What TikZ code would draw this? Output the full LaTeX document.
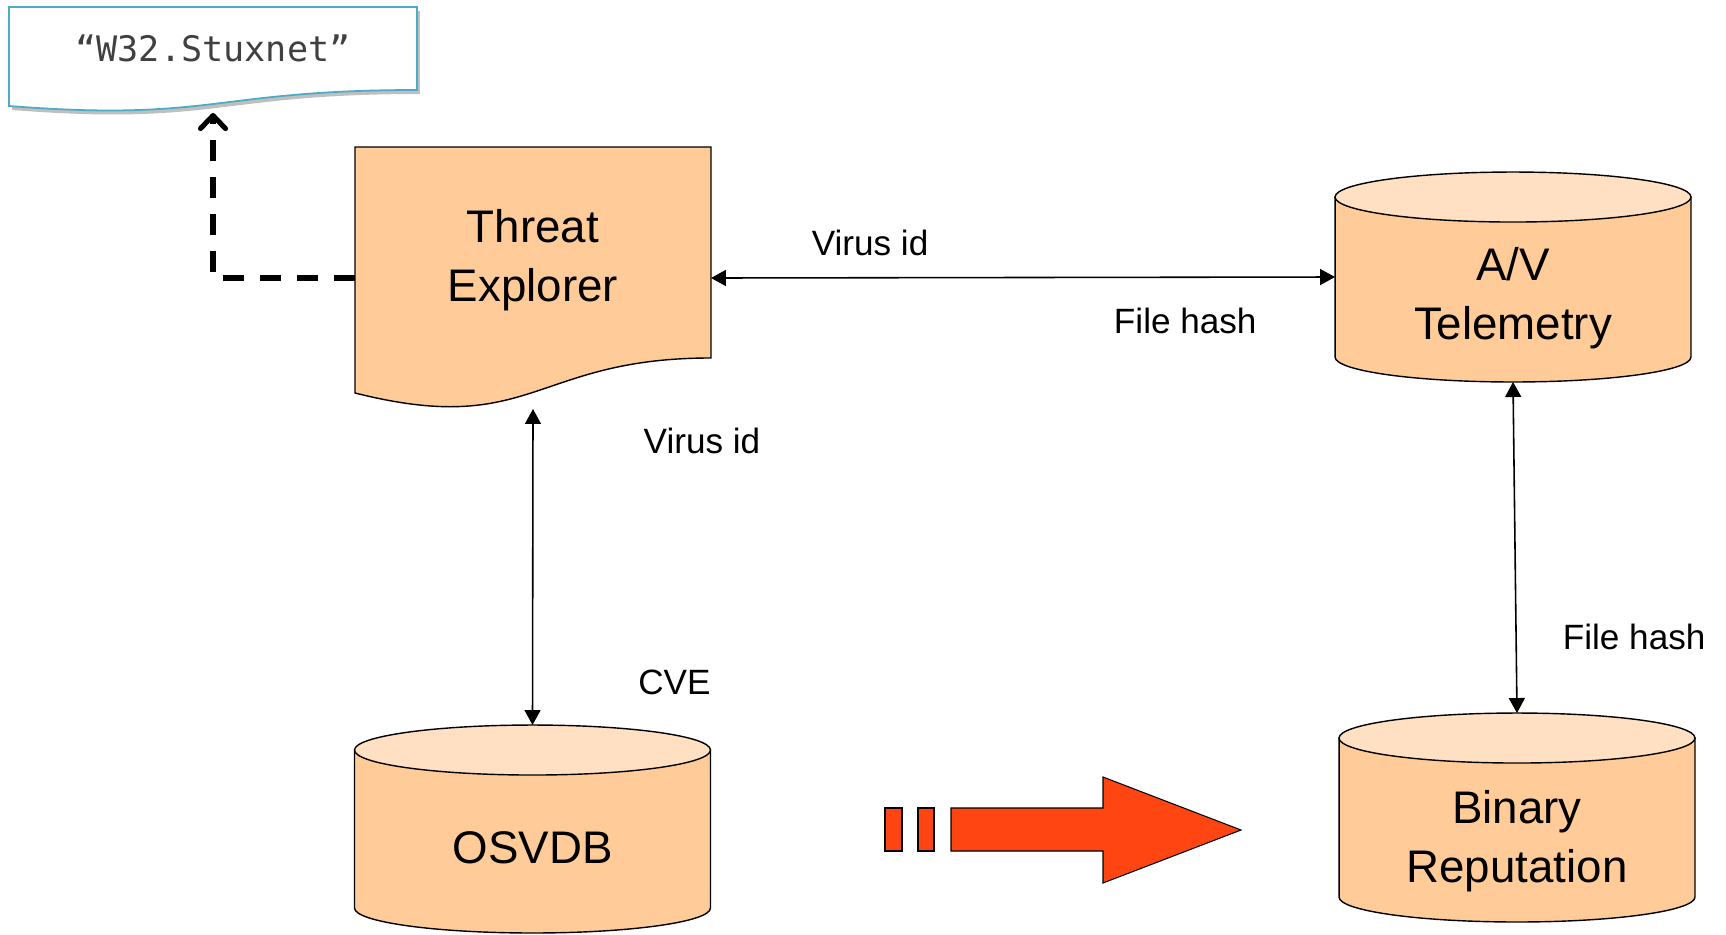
\documentclass[tikz,border=0pt]{standalone}
\usepackage{fontspec}
\setmainfont{Liberation Sans}
\newfontfamily\codefont{DejaVu Sans Mono}
\usepackage{tikz}
\usetikzlibrary{arrows.meta,positioning,calc,backgrounds}
\definecolor{peach}{RGB}{255,204,153}
\definecolor{lightpeach}{RGB}{255,224,194}
\definecolor{noteblue}{RGB}{75,172,198}
\definecolor{flame}{RGB}{255,69,18}
\definecolor{inkgray}{RGB}{64,64,64}
\tikzset{store/.style={rectangle, inner sep=0pt, outer sep=0pt, minimum width=7.12cm, font=\fontsize{26}{34}\selectfont}, cylbody/.style={draw=black, thick, fill=peach}, cyltop/.style={draw=black, thick, fill=lightpeach}, docbox/.style={draw=black, thick, fill=peach}, notebox/.style={draw=noteblue, line width=1pt, fill=white}, link/.style={{Triangle[length=0.3cm,width=0.32cm]}-{Triangle[length=0.3cm,width=0.32cm]}, line width=0.9pt}, dasharrow/.style={-{Straight Barb[length=0.26cm,width=0.5cm,round]}, line width=2.9pt, dash pattern=on 0.42cm off 0.32cm}, tag/.style={inner sep=0pt, font=\fontsize{20}{24}\selectfont}, flamebox/.style={draw=black, line width=0.6pt, fill=flame}}

\begin{document}
\begin{tikzpicture}[x=0.02cm, y=-0.02cm]
\useasboundingbox (0,0) rectangle (1726,934);
\node[rectangle, inner sep=0pt, outer sep=0pt, minimum width=8.16cm, minimum height=1.66cm, font=\codefont\fontsize{20}{24}\selectfont, text=inkgray] (stuxnet) at (213,48.5) {“W32.Stuxnet”};
\node[store, minimum height=5.24cm, text height=0.3cm, text depth=1.74cm] (threat) at (533,278) {\begin{tabular}[t]{@{}c@{}}Threat\\Explorer\end{tabular}};
\node[store, minimum height=4.2cm, text height=0.6cm, text depth=0.48cm] (avtel) at (1513,277) {\begin{tabular}[t]{@{}c@{}}A/V\\Telemetry\end{tabular}};
\node[store, minimum height=4.18cm, text height=0.6cm, text depth=0.38cm] (binary) at (1517,817.5) {\begin{tabular}[t]{@{}c@{}}Binary\\Reputation\end{tabular}};
\node[store, minimum height=4.16cm, text height=1.6cm, text depth=0.24cm] (osvdb) at (532.5,829) {OSVDB};
\begin{scope}[on background layer]
% note card and its shadow
\fill[black!25, transform canvas={shift={(0.06cm,-0.08cm)}}] (stuxnet.north west) -- (stuxnet.north east) -- (stuxnet.south east) .. controls +(-4.08cm,0) and +(4.08cm,-0.32cm) .. ([yshift=-0.32cm]stuxnet.south west) -- cycle;
\filldraw[notebox] (stuxnet.north west) -- (stuxnet.north east) -- (stuxnet.south east) .. controls +(-4.08cm,0) and +(4.08cm,-0.32cm) .. ([yshift=-0.32cm]stuxnet.south west) -- cycle;
\filldraw[docbox] (threat.north west) -- (threat.north east) -- ([yshift=-4.22cm]threat.north east) .. controls +(-3.56cm,0) and +(3.56cm,-0.9cm) .. ([yshift=-4.92cm]threat.north west) -- cycle;
% databases
\foreach \db in {avtel,binary,osvdb}{
  \filldraw[cylbody] ([yshift=-0.5cm]\db.north west) -- ([yshift=0.5cm]\db.south west) arc[start angle=180, end angle=360, x radius=3.56cm, y radius=0.5cm] -- ([yshift=-0.5cm]\db.north east) -- cycle;
  \filldraw[cyltop] ([yshift=-0.5cm]\db.north) ellipse[x radius=3.56cm, y radius=0.5cm];
}
\end{scope}
% big red arrow
\filldraw[flamebox] (885,808) rectangle (902,851);
\filldraw[flamebox] (918,808) rectangle (934,851);
\filldraw[flamebox] (951,808) -- (1103,808) -- (1103,777) -- (1241,830) -- (1103,883) -- (1103,851) -- (951,851) -- cycle;
\draw[dasharrow] (threat.west) -| ([yshift=-0.46cm]stuxnet.south);
\draw[link] (threat.east) -- node[tag, pos=0.255, above=0.42cm] {Virus id} node[tag, pos=0.76, below=0.61cm] {File hash} (avtel.west);
\draw[link] (threat.south) -- node[tag, pos=0.1, right=2.2cm] {Virus id} node[tag, pos=0.866, right=2.1cm] {CVE} (osvdb.north);
\draw[link] (avtel.south) -- node[tag, pos=0.77, right=0.92cm] {File hash} (binary.north);
\end{tikzpicture}
\end{document}
